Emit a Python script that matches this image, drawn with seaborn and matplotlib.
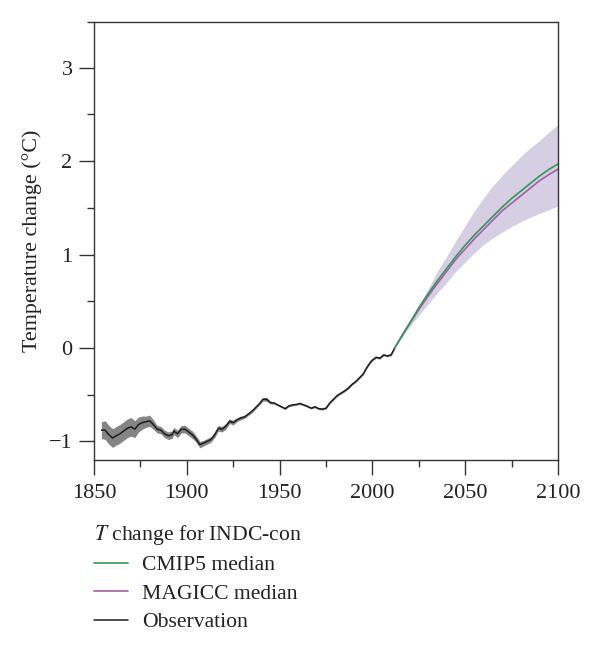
import numpy as np
import matplotlib.pyplot as plt
import seaborn as sns

# observation
obs_years = [1854, 1856, 1858, 1860, 1862, 1864, 1866, 1868, 1870, 1872, 1874, 1876, 1878, 1880,
             1882, 1884, 1886, 1888, 1890, 1892, 1893, 1895, 1897, 1899, 1901, 1903, 1905, 1907,
             1909, 1911, 1913, 1915, 1917, 1919, 1921, 1923, 1925, 1927, 1929, 1931, 1933, 1935,
             1937, 1939, 1941, 1943, 1945, 1947, 1949, 1951, 1953, 1955, 1957, 1959, 1961, 1963,
             1965, 1967, 1969, 1971, 1973, 1975, 1977, 1979, 1981, 1983, 1985, 1987, 1989, 1991,
             1993, 1995, 1997, 1999, 2000, 2002, 2004, 2006, 2008, 2010, 2011, 2012]
obs_vals = [-0.88, -0.88, -0.93, -0.965, -0.94, -0.92, -0.89, -0.86, -0.845, -0.87, -0.82, -0.80, -0.79, -0.78,
            -0.82, -0.87, -0.88, -0.92, -0.94, -0.93, -0.89, -0.92, -0.87, -0.87, -0.90, -0.93, -0.975, -1.035,
            -1.02, -1.0, -0.98, -0.93, -0.86, -0.87, -0.84, -0.785, -0.80, -0.77, -0.75, -0.74, -0.71, -0.68,
            -0.64, -0.60, -0.55, -0.55, -0.585, -0.59, -0.61, -0.63, -0.65, -0.62, -0.61, -0.605, -0.595, -0.61,
            -0.625, -0.645, -0.63, -0.65, -0.655, -0.645, -0.59, -0.55, -0.51, -0.485, -0.46, -0.43, -0.39, -0.36,
            -0.32, -0.28, -0.21, -0.15, -0.13, -0.10, -0.11, -0.075, -0.085, -0.075, -0.04, 0.0]
obs_err = [0.09, 0.1, 0.1, 0.1, 0.1, 0.1, 0.1, 0.1, 0.1, 0.09, 0.08, 0.07, 0.06, 0.06,
           0.05, 0.04, 0.04, 0.04, 0.04, 0.04, 0.04, 0.04, 0.04, 0.04, 0.04, 0.04, 0.035, 0.035,
           0.03, 0.03, 0.03, 0.03, 0.03, 0.03, 0.03, 0.025, 0.025, 0.02, 0.02, 0.015, 0.015, 0.015,
           0.015, 0.015, 0.02, 0.02, 0.015, 0.01, 0.01, 0.01, 0.01, 0.01, 0.01, 0.01, 0.01, 0.01,
           0.01, 0.01, 0.01, 0.01, 0.01, 0.01, 0.01, 0.01, 0.01, 0.01, 0.01, 0.01, 0.01, 0.01,
           0.01, 0.01, 0.01, 0.01, 0.01, 0.01, 0.01, 0.01, 0.01, 0.01, 0.01, 0.01]

# projections
proj_years = [2012, 2016, 2020, 2025, 2030, 2035, 2040, 2045, 2050, 2055,
              2060, 2065, 2070, 2075, 2080, 2085, 2090, 2095, 2100]
cmip5_vals = [0.0, 0.135, 0.264, 0.43, 0.58, 0.72, 0.85, 0.98, 1.10, 1.21,
              1.31, 1.41, 1.51, 1.60, 1.68, 1.76, 1.84, 1.91, 1.97]
magicc_vals = [0.0, 0.13, 0.255, 0.41, 0.555, 0.69, 0.82, 0.95, 1.06, 1.17,
               1.27, 1.37, 1.47, 1.55, 1.63, 1.71, 1.79, 1.855, 1.915]
upper_vals = [0.0, 0.14, 0.28, 0.45, 0.63, 0.82, 0.98, 1.15, 1.31, 1.47,
              1.61, 1.74, 1.85, 1.95, 2.05, 2.14, 2.22, 2.31, 2.39]
lower_vals = [0.0, 0.115, 0.23, 0.35, 0.47, 0.59, 0.70, 0.82, 0.92, 1.02,
              1.11, 1.18, 1.24, 1.30, 1.35, 1.40, 1.44, 1.48, 1.52]

sns.set_style("ticks")
plt.rcParams['font.family'] = ['Liberation Serif', 'DejaVu Serif']
plt.rcParams['mathtext.fontset'] = 'stix'

fig, ax = plt.subplots(figsize=(6, 6.48), dpi=100)
fig.subplots_adjust(left=94 / 600, right=558 / 600, top=1 - 22 / 648, bottom=1 - 460 / 648)

# shaded ranges
obs_low = np.array(obs_vals) - np.array(obs_err)
obs_high = np.array(obs_vals) + np.array(obs_err)
ax.fill_between(obs_years, obs_low, obs_high, color='#858585', lw=0)
ax.fill_between(proj_years, lower_vals, upper_vals, color='#d6cfe3', lw=0)

sns.lineplot(x=obs_years, y=obs_vals, color='#1c1c1c', lw=1.1, label='Observation', ax=ax)
sns.lineplot(x=proj_years, y=magicc_vals, color='#a85cab', lw=1.2, label='MAGICC median', ax=ax)
sns.lineplot(x=proj_years, y=cmip5_vals, color='#2f9a55', lw=1.2, label='CMIP5 median', ax=ax)

ax.set_xlim(1850, 2100)
ax.set_ylim(-1.2, 3.49)
ax.set_xticks([1850, 1900, 1950, 2000, 2050, 2100])
ax.set_xticks([1875, 1925, 1975, 2025, 2075], minor=True)
ax.set_yticks([-1, 0, 1, 2, 3])
ax.set_yticks([-0.5, 0.5, 1.5, 2.5, 3.49], minor=True)
ax.tick_params(axis='both', which='major', length=10.5, width=1, labelsize=16, color='#333333', labelcolor='#222222')
ax.tick_params(axis='both', which='minor', length=5, width=1, color='#333333')
ax.tick_params(axis='x', which='major', pad=6.8)
ax.tick_params(axis='y', which='major', pad=5)
ax.set_xlabel('')
ax.set_ylabel('Temperature change (°C)', fontsize=15.8, color='#222222', labelpad=5)
for s in ax.spines.values():
    s.set_linewidth(1)
    s.set_color('#333333')

handles, labels = ax.get_legend_handles_labels()
leg = ax.legend(handles[::-1], labels[::-1], title=r'$\mathit{T}$ change for INDC-con',
                loc='upper left', bbox_to_anchor=(94 / 600, 1 - 523 / 648), bbox_transform=fig.transFigure,
                frameon=False, fontsize=15.6, title_fontsize=15.6, alignment='left',
                borderpad=0, borderaxespad=0, handlelength=1.58, handletextpad=0.65, labelspacing=0.38)
for t in leg.get_texts():
    t.set_color('#222222')
leg.get_title().set_color('#222222')

fig.savefig('out.png', dpi=100)
